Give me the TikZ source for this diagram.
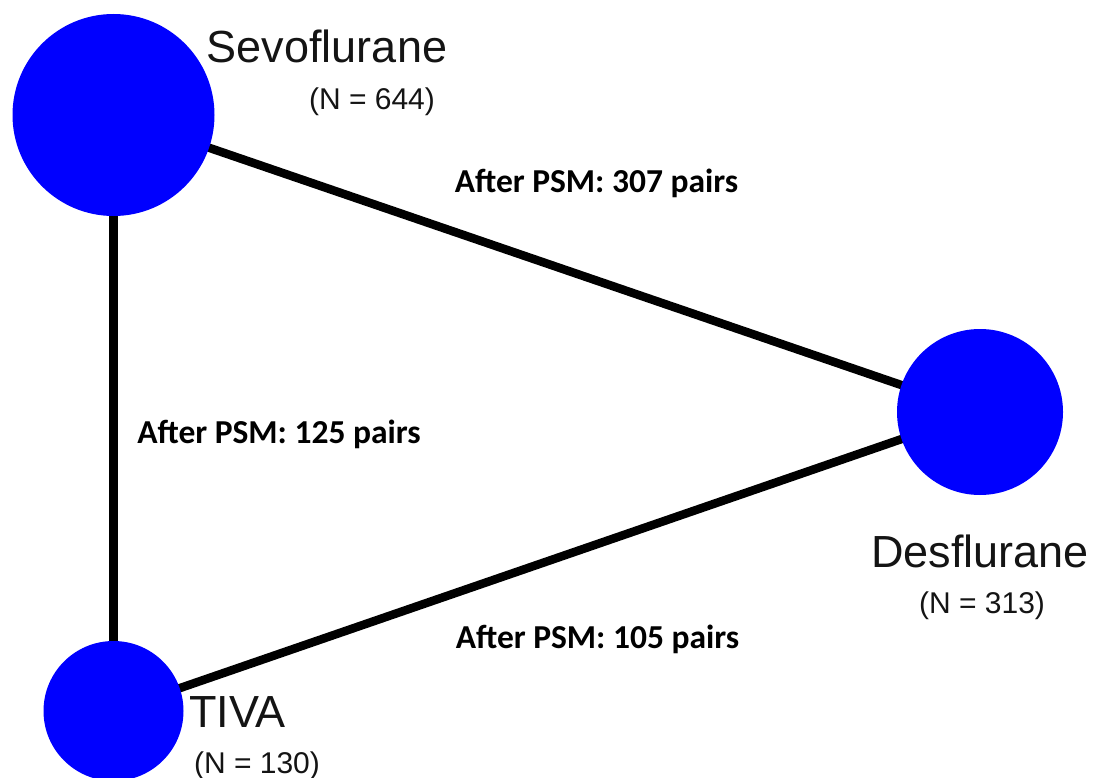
\documentclass[tikz,border=0pt]{standalone}
\usepackage{fontspec}
\setmainfont{Liberation Sans}
\newfontfamily\lblfont{Carlito}
\definecolor{nodeblue}{RGB}{0,0,255}
\definecolor{txt}{RGB}{20,20,20}
\begin{document}
\begin{tikzpicture}[x=1pt,y=-1pt,
  vert/.style={circle,fill=nodeblue,draw=none,inner sep=0pt},
  edge/.style={line width=8.5pt,black},
  vlabel/.style={anchor=base,inner sep=0pt,text=txt,font=\fontsize{45}{45}\selectfont},
  vcount/.style={anchor=base,inner sep=0pt,text=txt,font=\fontsize{30}{30}\selectfont},
  pairlbl/.style={anchor=base,inner sep=0pt,text=black,font=\lblfont\bfseries\fontsize{33.5}{33.5}\selectfont}]
\useasboundingbox (0,0) rectangle (1094,778);
\coordinate (sc) at (113.5,115);
\coordinate (dc) at (980,412);
\coordinate (tc) at (113.5,711);
\draw[edge] (sc) -- (dc);
\draw[edge] (sc) -- (tc);
\draw[edge] (tc) -- (dc);
\node[vert,minimum size=202pt] (sevo) at (sc) {};
\node[vert,minimum size=166pt] (desf) at (dc) {};
\node[vert,minimum size=140pt] (tiva) at (tc) {};
\node[vlabel] (sevoname) at (327,63) {Sevoflurane};
\node[vcount] (sevon) at (372,110) {(N = 644)};
\node[vlabel] (desfname) at (980,567) {Desflurane};
\node[vcount] (desfn) at (982,613) {(N = 313)};
\node[vlabel] (tivaname) at (237.5,727) {TIVA};
\node[vcount] (tivan) at (257,773) {(N = 130)};
\node[pairlbl] (l1) at (596.5,193) {After PSM: 307 pairs};
\node[pairlbl] (l2) at (279,443) {After PSM: 125 pairs};
\node[pairlbl] (l3) at (597.5,648) {After PSM: 105 pairs};
\end{tikzpicture}
\end{document}
